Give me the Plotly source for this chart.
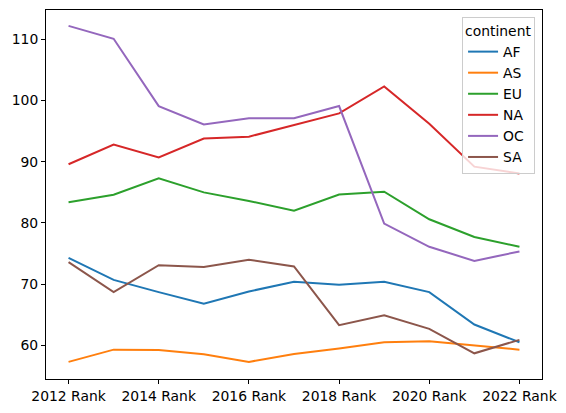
import plotly.graph_objects as go

years = ["2012 Rank", "2013 Rank", "2014 Rank", "2015 Rank", "2016 Rank", "2017 Rank",
         "2018 Rank", "2019 Rank", "2020 Rank", "2021 Rank", "2022 Rank"]
tick_labels = ["2012 Rank", "2014 Rank", "2016 Rank", "2018 Rank", "2020 Rank", "2022 Rank"]

AF = [74.3, 70.7, 68.7, 66.8, 68.8, 70.4, 69.9, 70.4, 68.7, 63.4, 60.5]
AS = [57.3, 59.3, 59.25, 58.55, 57.3, 58.6, 59.5, 60.5, 60.65, 60.0, 59.3]
EU = [83.4, 84.6, 87.3, 85.0, 83.6, 82.0, 84.65, 85.1, 80.6, 77.7, 76.1]
NA = [89.6, 92.8, 90.7, 93.8, 94.1, 96.0, 97.9, 102.3, 96.2, 89.2, 88.1]
OC = [112.2, 110.1, 99.1, 96.1, 97.1, 97.1, 99.1, 79.9, 76.1, 73.8, 75.35]
SA = [73.6, 68.7, 73.1, 72.8, 74.0, 72.9, 63.3, 64.9, 62.7, 58.7, 60.9]

series = [("AF", AF, "#1f77b4"), ("AS", AS, "#ff7f0e"), ("EU", EU, "#2ca02c"),
          ("NA", NA, "#d62728"), ("OC", OC, "#9467bd"), ("SA", SA, "#8c564b")]

fig = go.Figure()
for name, vals, col in series:
    fig.add_trace(go.Scatter(x=years, y=vals, mode="lines", name=name,
                             line=dict(color=col, width=2)))

FS = 13.9

axis_common = dict(showline=True, linecolor="black", linewidth=1, mirror=True,
                   ticks="outside", ticklen=4, tickcolor="black", showgrid=False,
                   zeroline=False, tickfont=dict(family="DejaVu Sans", size=FS, color="black"))

# page body has an 8px margin, so the figure is shrunk and offset accordingly
fig.update_layout(
    width=558, height=405,
    margin=dict(l=38, r=24, t=2, b=34),
    plot_bgcolor="white", paper_bgcolor="white",
    font=dict(family="DejaVu Sans", size=FS, color="black"),
    xaxis=dict(type="category", range=[-0.5, 10.5], tickmode="array",
               tickvals=tick_labels, ticktext=tick_labels, **axis_common),
    yaxis=dict(range=[54.5, 114.8], tickvals=[60, 70, 80, 90, 100, 110], **axis_common),
    legend=dict(title=dict(text="continent", font=dict(size=FS)),
                x=0.986, y=0.981, xanchor="right", yanchor="top",
                bgcolor="rgba(255,255,255,0.8)", bordercolor="#cccccc", borderwidth=1,
                font=dict(size=FS), tracegroupgap=0, itemwidth=30),
)

fig.write_html("out.html")
